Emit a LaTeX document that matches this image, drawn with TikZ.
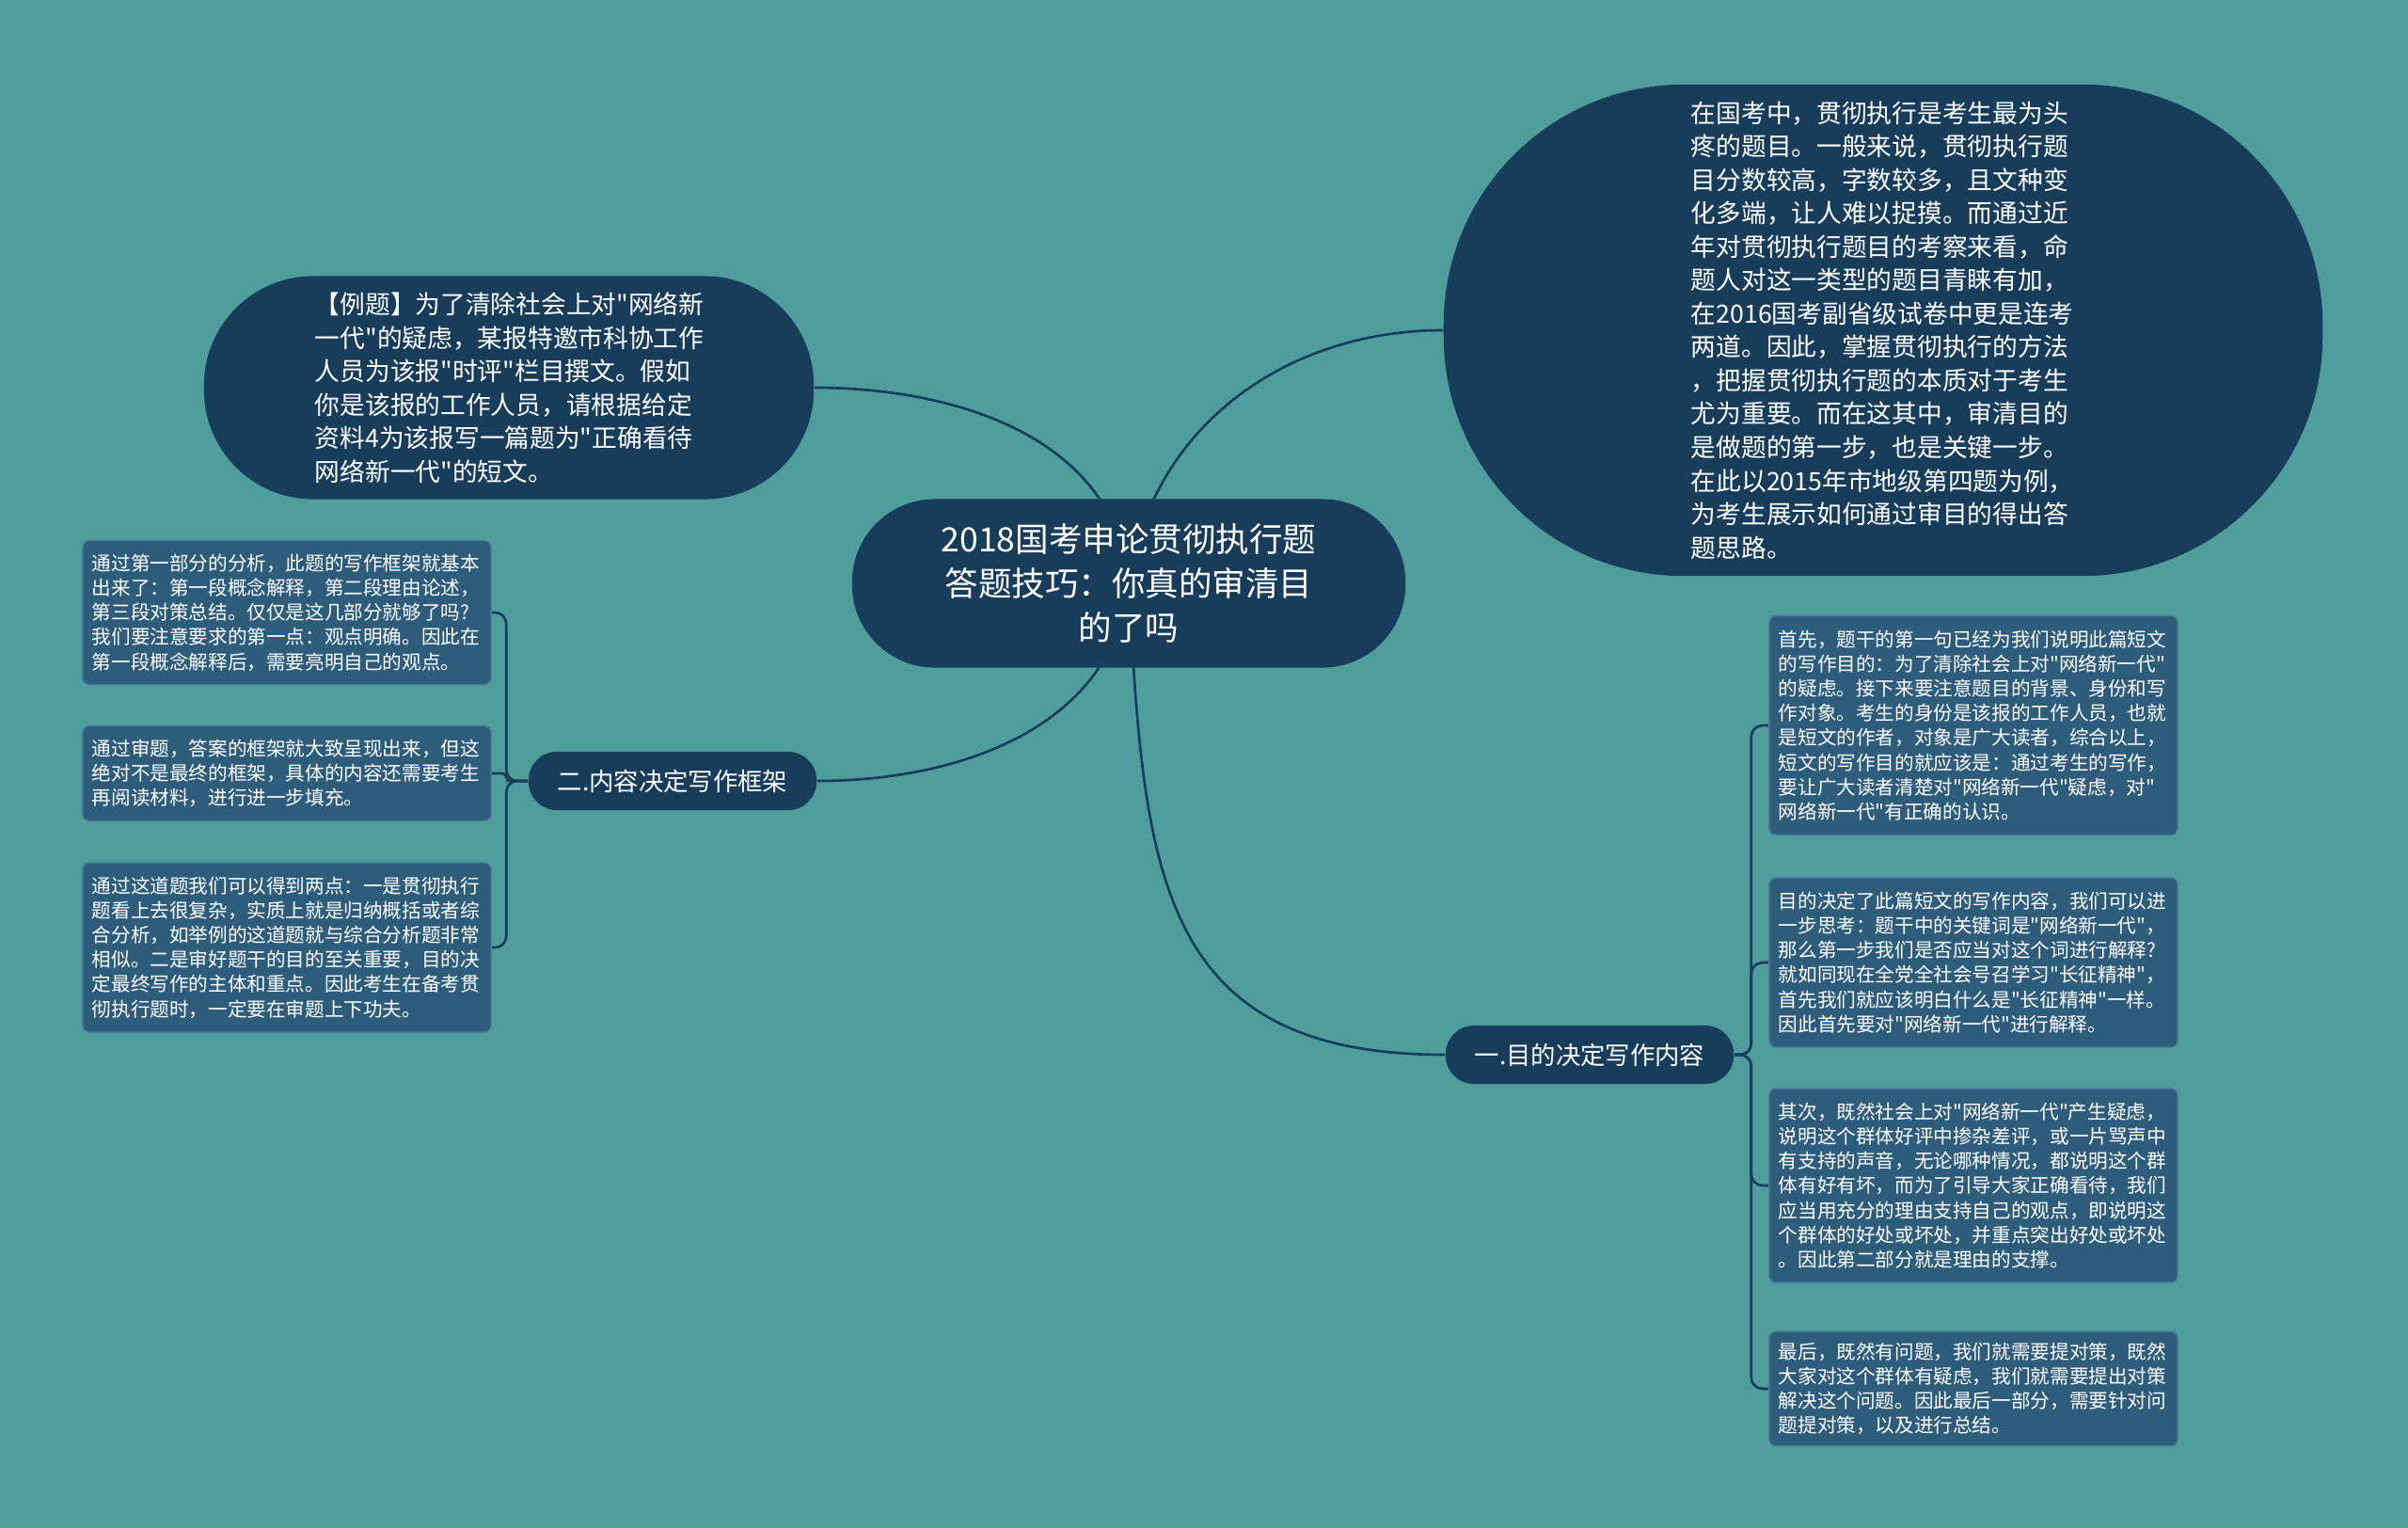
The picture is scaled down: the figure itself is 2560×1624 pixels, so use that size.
\documentclass[tikz,border=0pt]{standalone}
\usepackage{fontspec}
\setmainfont{Noto Sans CJK SC}[Ligatures=TeXOff]
\usetikzlibrary{positioning}
\pgfdeclarelayer{bg}
\pgfsetlayers{bg,main}
\definecolor{sea}{HTML}{4F9E9D}
\definecolor{deep}{HTML}{173D5B}
\definecolor{card}{HTML}{2E5C7B}
\definecolor{cardrim}{HTML}{4A7C99}
\tikzset{
  titlebox/.style={fill=deep, text=white, rounded corners=0.88cm, align=center,
    minimum width=5.88cm, minimum height=1.79cm, font=\fontsize{10.1}{13.4}\selectfont},
  bubble/.style={fill=deep, text=white, align=left, font=\fontsize{7.6}{10.1}\selectfont},
  branch/.style={fill=deep, text=white, rounded corners=0.3cm, minimum width=3.06cm,
    minimum height=0.62cm, font=\fontsize{7.5}{9}\selectfont},
  card/.style={fill=card, draw=cardrim, line width=0.4pt, text=white, rounded corners=0.07cm,
    align=left, text width=4.14cm, inner xsep=0.1cm, minimum width=4.34cm,
    font=\fontsize{5.86}{7.45}\selectfont},
  link/.style={draw=deep, line width=0.75pt}
}
\begin{document}
\begin{tikzpicture}[x=0.01cm, y=-0.01cm]
  \useasboundingbox (0,0) rectangle (2560,1624);

  \node [titlebox] (topic) at (1200,620) {2018国考申论贯彻执行题\\答题技巧：你真的审清目\\的了吗};

  \node [bubble, rounded corners=1.16cm, minimum width=6.48cm, minimum height=2.37cm, text width=4.12cm] (example) at (541,412) {【例题】为了清除社会上对"网络新\\
一代"的疑虑，某报特邀市科协工作\\
人员为该报"时评"栏目撰文。假如\\
你是该报的工作人员，请根据给定\\
资料4为该报写一篇题为"正确看待\\
网络新一代"的短文。};

  \node [bubble, rounded corners=2.55cm, minimum width=9.34cm, minimum height=5.22cm, text width=4.08cm] (intro) at (2002,351) {在国考中，贯彻执行是考生最为头\\
疼的题目。一般来说，贯彻执行题\\
目分数较高，字数较多，且文种变\\
化多端，让人难以捉摸。而通过近\\
年对贯彻执行题目的考察来看，命\\
题人对这一类型的题目青睐有加，\\
在2016国考副省级试卷中更是连考\\
两道。因此，掌握贯彻执行的方法\\
，把握贯彻执行题的本质对于考生\\
尤为重要。而在这其中，审清目的\\
是做题的第一步，也是关键一步。\\
在此以2015年市地级第四题为例，\\
为考生展示如何通过审目的得出答\\
题思路。};

  \node [branch] (frame) at (715,830) {二.内容决定写作框架};
  \node [branch] (aim) at (1690,1121) {一.目的决定写作内容};

  \node [card, minimum height=1.53cm] (frameA) at (305,651) {通过第一部分的分析，此题的写作框架就基本\\
出来了：第一段概念解释，第二段理由论述，\\
第三段对策总结。仅仅是这几部分就够了吗?\\
我们要注意要求的第一点：观点明确。因此在\\
第一段概念解释后，需要亮明自己的观点。};
  \node [card, minimum height=1.01cm] (frameB) at (305,822) {通过审题，答案的框架就大致呈现出来，但这\\
绝对不是最终的框架，具体的内容还需要考生\\
再阅读材料，进行进一步填充。};
  \node [card, minimum height=1.80cm] (frameC) at (305,1007) {通过这道题我们可以得到两点：一是贯彻执行\\
题看上去很复杂，实质上就是归纳概括或者综\\
合分析，如举例的这道题就与综合分析题非常\\
相似。二是审好题干的目的至关重要，目的决\\
定最终写作的主体和重点。因此考生在备考贯\\
彻执行题时，一定要在审题上下功夫。};

  \node [card, minimum height=2.33cm] (aimA) at (2098,771) {首先，题干的第一句已经为我们说明此篇短文\\
的写作目的：为了清除社会上对"网络新一代"\\
的疑虑。接下来要注意题目的背景、身份和写\\
作对象。考生的身份是该报的工作人员，也就\\
是短文的作者，对象是广大读者，综合以上，\\
短文的写作目的就应该是：通过考生的写作，\\
要让广大读者清楚对"网络新一代"疑虑，对"\\
网络新一代"有正确的认识。};
  \node [card, minimum height=1.80cm] (aimB) at (2098,1023) {目的决定了此篇短文的写作内容，我们可以进\\
一步思考：题干中的关键词是"网络新一代"，\\
那么第一步我们是否应当对这个词进行解释?\\
就如同现在全党全社会号召学习"长征精神"，\\
首先我们就应该明白什么是"长征精神"一样。\\
因此首先要对"网络新一代"进行解释。};
  \node [card, minimum height=2.06cm] (aimC) at (2098,1260) {其次，既然社会上对"网络新一代"产生疑虑，\\
说明这个群体好评中掺杂差评，或一片骂声中\\
有支持的声音，无论哪种情况，都说明这个群\\
体有好有坏，而为了引导大家正确看待，我们\\
应当用充分的理由支持自己的观点，即说明这\\
个群体的好处或坏处，并重点突出好处或坏处\\
。因此第二部分就是理由的支撑。};
  \node [card, minimum height=1.18cm] (aimD) at (2098,1476) {最后，既然有问题，我们就需要提对策，既然\\
大家对这个群体有疑虑，我们就需要提出对策\\
解决这个问题。因此最后一部分，需要针对问\\
题提对策，以及进行总结。};

  \begin{pgfonlayer}{bg}
    \fill [sea] (0,0) rectangle (2560,1624);
    \draw [link] (topic.center) to[out=95,in=0] (example.east);
    \draw [link] (topic.center) to[out=82,in=180] (intro.west);
    \draw [link] (topic.center) to[out=-96,in=0] (frame.east);
    \draw [link] (topic.center) to[out=-87,in=180,looseness=1.3] (aim.west);
    \draw [link, rounded corners=0.12cm] (frame.west) -- ++(-23,0) |- (frameA.east);
    \draw [link, rounded corners=0.04cm] (frame.west) -- ++(-23,0) |- (frameB.east);
    \draw [link, rounded corners=0.12cm] (frame.west) -- ++(-23,0) |- (frameC.east);
    \draw [link, rounded corners=0.12cm] (aim.east) -- ++(18,0) |- (aimA.west);
    \draw [link, rounded corners=0.12cm] (aim.east) -- ++(18,0) |- (aimB.west);
    \draw [link, rounded corners=0.12cm] (aim.east) -- ++(18,0) |- (aimC.west);
    \draw [link, rounded corners=0.12cm] (aim.east) -- ++(18,0) |- (aimD.west);
  \end{pgfonlayer}
\end{tikzpicture}
\end{document}
